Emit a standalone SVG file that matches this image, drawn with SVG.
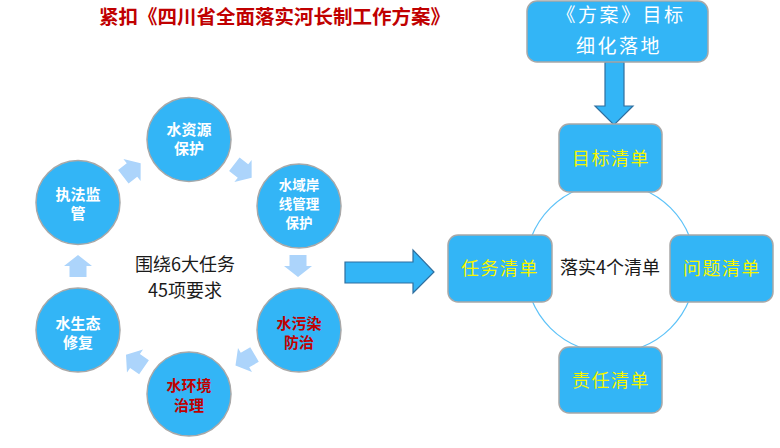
<svg xmlns="http://www.w3.org/2000/svg" width="780" height="448" viewBox="0 0 780 448">
<defs>
<style>
.cjk{font-family:"Noto Sans CJK SC","Liberation Sans",sans-serif;}
.title{font-size:19.5px;font-weight:bold;fill:#c00000;}
.c{fill:#33b5f6;stroke:#a8a8a8;stroke-width:1.5;}
.ct{font-size:15px;font-weight:bold;fill:#ffffff;text-anchor:middle;}
.ct3{font-size:13.5px;font-weight:bold;fill:#ffffff;text-anchor:middle;}
.ctr{font-size:15px;font-weight:bold;fill:#c00000;text-anchor:middle;}
.mid{font-size:18px;fill:#1a1a1a;text-anchor:middle;}
.box{fill:#33b5f6;stroke:#a8a8a8;stroke-width:1.5;}
.bt{font-size:18px;fill:#f5f500;text-anchor:middle;letter-spacing:1.5px;}
.wt{font-size:19px;fill:#ffffff;text-anchor:middle;letter-spacing:2.5px;}
.la{fill:#acd4fb;}
.ba{fill:#33b5f6;stroke:#2f6f9f;stroke-width:1.2;stroke-linejoin:miter;}
</style>
<path id="la" d="M-11,-8.5 L0,-8.5 L0,-14 L11,0 L0,14 L0,8.5 L-11,8.5 Z"/>
</defs>

<text class="cjk title" x="99" y="24">紧扣《四川省全面落实河长制工作方案》</text>

<g id="connectors">
<use href="#la" class="la" transform="translate(132,170) rotate(-38)"/>
<use href="#la" class="la" transform="translate(243,171) rotate(38)"/>
<use href="#la" class="la" transform="translate(298,266) rotate(90)"/>
<use href="#la" class="la" transform="translate(245,360) rotate(150)"/>
<use href="#la" class="la" transform="translate(135,361) rotate(-145)"/>
<use href="#la" class="la" transform="translate(78,266) rotate(-90)"/>
<path class="ba" d="M345,262 L413,262 L413,250 L434,272 L413,293 L413,283 L345,283 Z"/>
<path class="ba" d="M605,62 L624,62 L624,106 L633,106 L614,125 L595,106 L605,106 Z"/>
<circle cx="610.5" cy="268" r="85" fill="none" stroke="#5cc2f8" stroke-width="1.2"/>
</g>

<g id="n-shuiziyuan">
<circle class="c" cx="189" cy="139.5" r="42"/>
<text class="cjk ct" x="189" y="135">水资源</text>
<text class="cjk ct" x="189" y="154">保护</text>
</g>
<g id="n-shuiyu">
<circle class="c" cx="299" cy="206" r="42"/>
<text class="cjk ct3" x="299" y="190">水域岸</text>
<text class="cjk ct3" x="299" y="209">线管理</text>
<text class="cjk ct3" x="299" y="228">保护</text>
</g>
<g id="n-wuran">
<circle class="c" cx="299" cy="330" r="42"/>
<text class="cjk ctr" x="299" y="329">水污染</text>
<text class="cjk ctr" x="299" y="348">防治</text>
</g>
<g id="n-huanjing">
<circle class="c" cx="189" cy="394" r="42"/>
<text class="cjk ctr" x="189" y="391">水环境</text>
<text class="cjk ctr" x="189" y="411">治理</text>
</g>
<g id="n-shengtai">
<circle class="c" cx="78" cy="330" r="42"/>
<text class="cjk ct" x="78" y="329">水生态</text>
<text class="cjk ct" x="78" y="348">修复</text>
</g>
<g id="n-zhifa">
<circle class="c" cx="78" cy="202.5" r="42"/>
<text class="cjk ct" x="78" y="200">执法监</text>
<text class="cjk ct" x="78" y="219">管</text>
</g>
<g id="n-center-left">
<text class="cjk mid" x="185" y="271">围绕6大任务</text>
<text class="cjk mid" x="185" y="297">45项要求</text>
</g>

<g id="n-fangan">
<rect class="box" x="527" y="1" width="181" height="61" rx="10"/>
<text class="cjk wt" x="621" y="22">《方案》目标</text>
<text class="cjk wt" x="619" y="53">细化落地</text>
</g>
<g id="n-mubiao">
<rect class="box" x="559" y="124" width="103" height="68" rx="10"/>
<text class="cjk bt" x="611" y="165">目标清单</text>
</g>
<g id="n-renwu">
<rect class="box" x="448" y="235" width="104" height="67" rx="10"/>
<text class="cjk bt" x="500" y="275">任务清单</text>
</g>
<g id="n-wenti">
<rect class="box" x="670" y="235" width="103" height="67" rx="10"/>
<text class="cjk bt" x="722" y="275">问题清单</text>
</g>
<g id="n-zeren">
<rect class="box" x="559" y="347" width="103" height="66" rx="10"/>
<text class="cjk bt" x="611" y="387">责任清单</text>
</g>
<g id="n-center-right">
<text class="cjk mid" x="610" y="274">落实4个清单</text>
</g>
</svg>
